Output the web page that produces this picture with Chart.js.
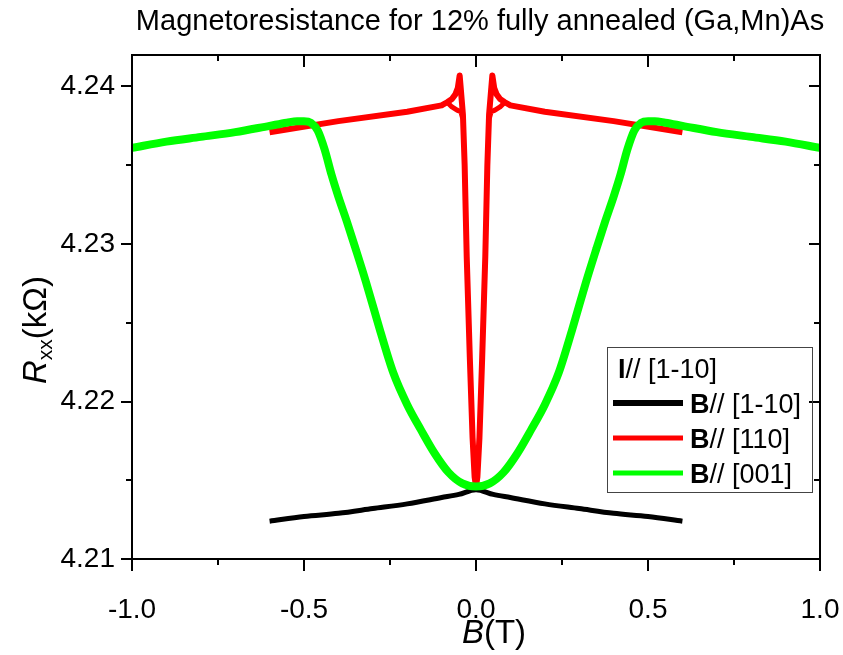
<!DOCTYPE html>
<html>
<head>
<meta charset="utf-8">
<script src="https://cdn.jsdelivr.net/npm/chart.js@4/dist/chart.umd.min.js"></script>
<style>
  html, body { margin: 0; padding: 0; background: #ffffff; }
  #wrap { width: 843px; height: 655px; }
</style>
</head>
<body>
<div id="wrap"><canvas id="c" width="843" height="655"></canvas></div>
<script>
// ---------- data ----------
const chartTitle = 'Magnetoresistance for 12% fully annealed (Ga,Mn)As';
const legendHeader = ['I', '// [1-10]'];
const seriesNames = [['B', '// [1-10]'], ['B', '// [110]'], ['B', '// [001]']];

const xTicks = [-1, -0.75, -0.5, -0.25, 0, 0.25, 0.5, 0.75, 1];
const xTickLabels = ['-1.0', '', '-0.5', '', '0.0', '', '0.5', '', '1.0'];
const yTicks = [4.21, 4.215, 4.22, 4.225, 4.23, 4.235, 4.24];
const yTickLabels = ['4.21', '', '4.22', '', '4.23', '', '4.24'];

// B // [1-10]  (black)
const blackB = [-0.6, -0.5, -0.4, -0.3, -0.2, -0.1, -0.05, 0, 0.05, 0.1, 0.2, 0.3, 0.4, 0.5, 0.6];
const blackR = [4.2124, 4.2127, 4.2129, 4.2132, 4.2135, 4.2139, 4.2141, 4.2144, 4.2141, 4.2139, 4.2135, 4.2132, 4.2129, 4.2127, 4.2124];

// B // [110]  (red) main sweep
const redB = [-0.6, -0.4, -0.2, -0.1, -0.084, -0.07, -0.06, -0.053, -0.0475, -0.044, -0.041, -0.038, -0.033, -0.027, -0.018, -0.01, -0.004, 0,
              0.004, 0.01, 0.018, 0.027, 0.033, 0.038, 0.041, 0.044, 0.0475, 0.053, 0.06, 0.07, 0.084, 0.1, 0.2, 0.4, 0.6];
const redR = [4.2371, 4.2378, 4.2384, 4.2388, 4.2390, 4.2392, 4.2395, 4.2399, 4.2407, 4.2398, 4.2390, 4.2382, 4.2350, 4.2292, 4.2228, 4.2177, 4.2152, 4.2146,
              4.2152, 4.2177, 4.2228, 4.2292, 4.2350, 4.2382, 4.2390, 4.2398, 4.2407, 4.2399, 4.2395, 4.2392, 4.2390, 4.2388, 4.2384, 4.2378, 4.2371];
// red return branch near the peaks (null = gap)
const redLoopB = [-0.084, -0.07, -0.055, -0.044, -0.039, null, 0.039, 0.044, 0.055, 0.07, 0.084];
const redLoopR = [4.2390, 4.2387, 4.2385, 4.2384, 4.2380, null, 4.2380, 4.2384, 4.2385, 4.2387, 4.2390];

// B // [001]  (green)
const greenB = [-1.0, -0.9, -0.8, -0.7, -0.6, -0.55, -0.52, -0.5, -0.48, -0.46, -0.44, -0.42, -0.4, -0.375, -0.35, -0.32, -0.28, -0.24, -0.2, -0.16, -0.12, -0.08, -0.04, 0,
                0.04, 0.08, 0.12, 0.16, 0.2, 0.24, 0.28, 0.32, 0.35, 0.375, 0.4, 0.42, 0.44, 0.46, 0.48, 0.5, 0.52, 0.55, 0.6, 0.7, 0.8, 0.9, 1.0];
const greenR = [4.2361, 4.2365, 4.2368, 4.2371, 4.2375, 4.2377, 4.2378, 4.2378, 4.2377, 4.2372, 4.2360, 4.2344, 4.2330, 4.2314, 4.2297, 4.2276, 4.2246, 4.2218, 4.2198, 4.2182, 4.2167, 4.2155, 4.2148, 4.2146,
                4.2148, 4.2155, 4.2167, 4.2182, 4.2198, 4.2218, 4.2246, 4.2276, 4.2297, 4.2314, 4.2330, 4.2344, 4.2360, 4.2372, 4.2377, 4.2378, 4.2378, 4.2377, 4.2375, 4.2371, 4.2368, 4.2365, 4.2361];

const toPts = (xs, ys) => xs.map((v, i) => ({ x: v, y: (v === null || ys[i] === null) ? null : ys[i] }));

const FONT = '"Liberation Sans", Arial, Helvetica, sans-serif';

const decorations = {
  id: 'decorations',
  afterDraw(chart) {
    const { ctx, chartArea: a, scales: { x, y } } = chart;
    ctx.save();
    // frame
    ctx.strokeStyle = '#000';
    ctx.lineWidth = 2;
    ctx.strokeRect(a.left, a.top, a.right - a.left, a.bottom - a.top);
    // ticks
    ctx.lineWidth = 2;
    ctx.beginPath();
    x.ticks.forEach((t, i) => {
      const px = Math.round(x.getPixelForValue(t.value));
      const L = xTickLabels[i] ? 12 : 6;
      ctx.moveTo(px, a.bottom); ctx.lineTo(px, a.bottom + L);
      ctx.moveTo(px, a.top); ctx.lineTo(px, a.top + L);
    });
    y.ticks.forEach((t, i) => {
      const py = Math.round(y.getPixelForValue(t.value));
      const L = yTickLabels[i] ? 11 : 6;
      ctx.moveTo(a.left, py); ctx.lineTo(a.left - L, py);
      ctx.moveTo(a.right, py); ctx.lineTo(a.right - L, py);
    });
    ctx.stroke();

    ctx.fillStyle = '#000';
    ctx.textBaseline = 'alphabetic';
    // title
    ctx.font = '29px ' + FONT;
    ctx.textAlign = 'center';
    ctx.fillText(chartTitle, 480, 30);

    // x axis title  B(T)
    ctx.textAlign = 'left';
    ctx.font = 'italic 33px ' + FONT;
    const wB = ctx.measureText('B').width;
    ctx.font = '33px ' + FONT;
    const wT = ctx.measureText('(T)').width;
    let sx = 494 - (wB + wT) / 2;
    ctx.font = 'italic 33px ' + FONT;
    ctx.fillText('B', sx, 643);
    ctx.font = '33px ' + FONT;
    ctx.fillText('(T)', sx + wB, 643);

    // y axis title  Rxx(kΩ)
    ctx.save();
    ctx.translate(46, 330);
    ctx.rotate(-Math.PI / 2);
    ctx.font = 'italic 33px ' + FONT;
    const wR = ctx.measureText('R').width;
    ctx.font = '21px ' + FONT;
    const wxx = ctx.measureText('xx').width;
    ctx.font = '33px ' + FONT;
    const wk = ctx.measureText('(kΩ)').width;
    let tx = -(wR + wxx + wk) / 2;
    ctx.font = 'italic 33px ' + FONT;
    ctx.fillText('R', tx, 0);
    ctx.font = '21px ' + FONT;
    ctx.fillText('xx', tx + wR, 6);
    ctx.font = '33px ' + FONT;
    ctx.fillText('(kΩ)', tx + wR + wxx, 0);
    ctx.restore();

    // legend
    ctx.lineWidth = 1;
    ctx.strokeStyle = '#444';
    ctx.strokeRect(607.5, 347.5, 205, 145);
    const lf = 27;
    const drawMixed = (parts, x0, yb) => {
      ctx.font = 'bold ' + lf + 'px ' + FONT;
      ctx.fillText(parts[0], x0, yb);
      const w = ctx.measureText(parts[0]).width;
      ctx.font = lf + 'px ' + FONT;
      ctx.fillText(parts[1], x0 + w, yb);
    };
    drawMixed(legendHeader, 618, 378);
    const cols = ['#000000', '#ff0000', '#00ff00'];
    const rowsY = [403, 438, 473];
    const lws = [6, 5, 5];
    rowsY.forEach((ry, i) => {
      ctx.strokeStyle = cols[i];
      ctx.lineWidth = lws[i];
      ctx.beginPath();
      ctx.moveTo(613, ry); ctx.lineTo(683, ry);
      ctx.stroke();
      drawMixed(seriesNames[i], 690, ry + 10);
    });
    ctx.restore();
  }
};

new Chart(document.getElementById('c'), {
  type: 'scatter',
  data: {
    datasets: [
      { label: 'B// [001]', data: toPts(greenB, greenR), showLine: true, borderColor: '#00ff00', borderWidth: 8, pointRadius: 0, order: 0, borderJoinStyle: 'round', cubicInterpolationMode: 'monotone' },
      { label: 'B// [110]', data: toPts(redB, redR), showLine: true, borderColor: '#ff0000', borderWidth: 6, pointRadius: 0, order: 1, borderJoinStyle: 'round' },
      { label: 'B// [110] loop', data: toPts(redLoopB, redLoopR), showLine: true, spanGaps: false, borderColor: '#ff0000', borderWidth: 5, pointRadius: 0, order: 1, borderJoinStyle: 'round' },
      { label: 'B// [1-10]', data: toPts(blackB, blackR), showLine: true, borderColor: '#000000', borderWidth: 5, pointRadius: 0, order: 2, borderJoinStyle: 'round', cubicInterpolationMode: 'monotone' }
    ]
  },
  options: {
    responsive: false,
    animation: false,
    devicePixelRatio: 1,
    layout: { padding: { top: 55, right: 0, bottom: 0, left: 0 } },
    plugins: { legend: { display: false }, title: { display: false }, tooltip: { enabled: false } },
    scales: {
      x: {
        type: 'linear', min: -1, max: 1,
        grid: { display: false, drawTicks: false },
        border: { display: false },
        afterBuildTicks: (s) => { s.ticks = xTicks.map(v => ({ value: v })); },
        afterFit: (s) => { s.height = 96; s.paddingRight = 23; s.paddingLeft = 0; },
        ticks: {
          autoSkip: false, maxRotation: 0, padding: 34, color: '#000',
          font: { family: FONT, size: 28 },
          callback: (v, i) => xTickLabels[i]
        }
      },
      y: {
        type: 'linear', min: 4.21, max: 4.242,
        grid: { display: false, drawTicks: false },
        border: { display: false },
        afterBuildTicks: (s) => { s.ticks = yTicks.map(v => ({ value: v })); },
        afterFit: (s) => { s.width = 132; s.paddingTop = 0; s.paddingBottom = 0; },
        ticks: {
          autoSkip: false, padding: 17, color: '#000',
          font: { family: FONT, size: 28 },
          callback: (v, i) => yTickLabels[i]
        }
      }
    }
  },
  plugins: [decorations]
});
</script>
</body>
</html>
